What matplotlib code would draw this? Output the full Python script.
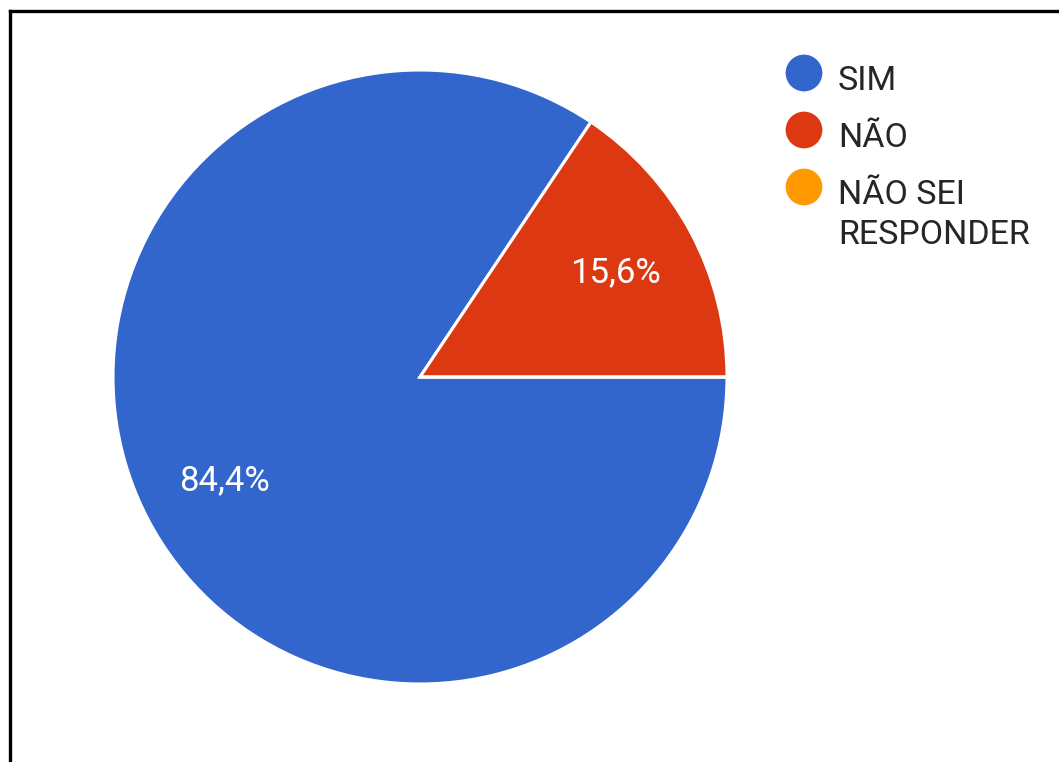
import matplotlib.pyplot as plt
import numpy as np
from matplotlib.lines import Line2D

categorias = ["SIM", "NÃO", "NÃO SEI\nRESPONDER"]
valores = [84.4, 15.6, 0.0]
cores = ["#3366CC", "#DC3912", "#FF9900"]
rotulos = ["84,4%", "15,6%", ""]

plt.rcParams['font.family'] = ['Roboto', 'DejaVu Sans']

W, H = 1059, 762
fig = plt.figure(figsize=(W / 100, H / 100), dpi=100)
ax = fig.add_axes([0, 0, 1, 1])

# pizza (sentido horario a partir das 3h, como no Google Forms)
wedges, _ = ax.pie(valores, colors=cores, startangle=0, counterclock=False,
                   center=(420, H - 377), radius=307,
                   wedgeprops=dict(edgecolor='white', linewidth=2.2))
ax.set_xlim(0, W)
ax.set_ylim(0, H)
ax.set_aspect('equal')
ax.axis('off')

# so as fatias que existem levam rotulo
ang0 = 0.0
for v, r in zip(valores, rotulos):
    if v <= 0:
        continue
    meio = np.deg2rad(ang0 - v / 100 * 360 / 2)
    ang0 -= v / 100 * 360
    ax.text(420 + 0.72 * 307 * np.cos(meio), H - 377 + 0.72 * 307 * np.sin(meio), r,
            color='white', fontsize=25, ha='center', va='center')

# legenda
ys = [73, 130, 187]
for cat, cor, y in zip(categorias, cores, ys):
    ax.scatter([804], [H - y], s=700, color=cor, edgecolor='none')
    ax.text(838, H - y + 8, cat, fontsize=24.5, color='#262626', ha='left', va='top',
            linespacing=1.33)

# moldura (so topo e esquerda aparecem no recorte)
fig.add_artist(Line2D([9.5 / W, 1], [1 - 11 / H, 1 - 11 / H], color='black', lw=2.4,
                      transform=fig.transFigure))
fig.add_artist(Line2D([9.5 / W, 9.5 / W], [0, 1 - 11 / H], color='black', lw=2.4,
                      transform=fig.transFigure))

plt.savefig("out.png", dpi=100)
